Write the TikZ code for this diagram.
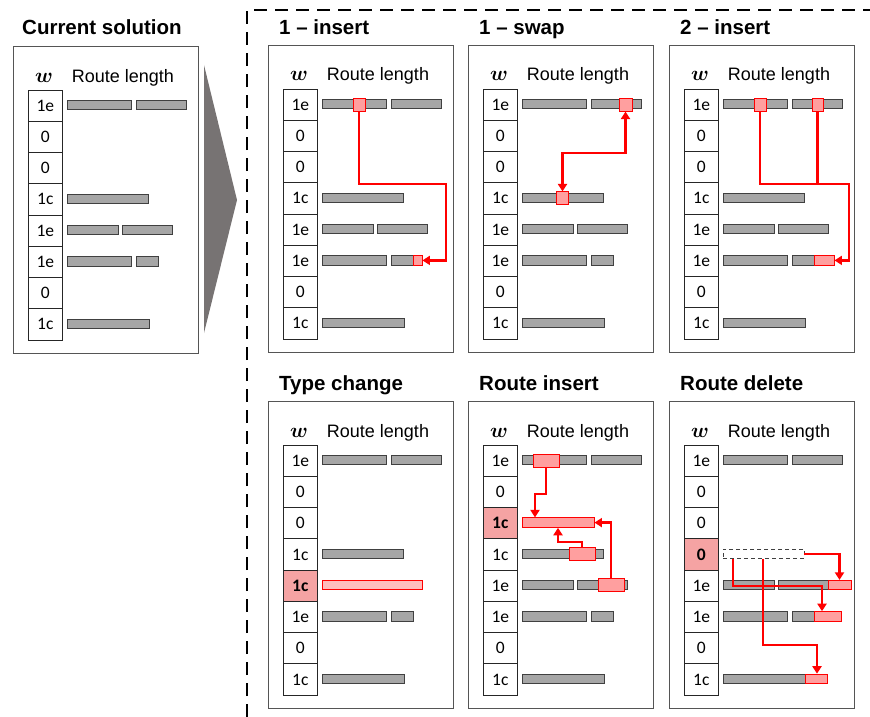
\documentclass[tikz,border=0pt]{standalone}
\usepackage{amsmath}
\usepackage{fontspec}
\setmainfont{Liberation Sans}
\newfontfamily\cellfont{Carlito}
\usetikzlibrary{arrows.meta}
\definecolor{barfill}{HTML}{A6A6A6}
\definecolor{bardraw}{HTML}{404040}
\definecolor{boxgray}{HTML}{555555}
\definecolor{redfill}{HTML}{FF9F9F}
\definecolor{redcell}{HTML}{F5A3A3}
\definecolor{arrgray}{HTML}{777373}
\tikzset{
  panelbox/.style={draw=boxgray, line width=1.2pt, inner sep=0pt, anchor=north west, minimum width=185pt, minimum height=307pt},
  cell/.style={draw=black!85, line width=1.1pt, minimum width=34.5pt, minimum height=31.25pt, inner sep=0pt, anchor=north west, font=\cellfont\fontsize{17.5}{19}\selectfont},
  hlcell/.style={cell, fill=redcell, font=\cellfont\bfseries\fontsize{17.5}{19}\selectfont},
  bar/.style={fill=barfill, draw=bardraw, line width=0.9pt},
  redr/.style={fill=redfill, draw=red, line width=0.9pt, inner sep=0pt, minimum height=9.5pt},
  redsq/.style={redr, minimum height=13pt},
  ghost/.style={draw=black!75, dashed, dash pattern=on 4pt off 3pt, line width=0.9pt, inner sep=0pt, minimum height=9pt, minimum width=81pt},
  rarrow/.style={draw=red, line width=2.7pt, line join=miter, -{Triangle[length=7.5pt,width=9pt]}},
  rline/.style={draw=red, line width=2.7pt, line join=miter},
  rdouble/.style={draw=red, line width=2.7pt, line join=miter, {Triangle[length=7.5pt,width=9pt]}-{Triangle[length=7.5pt,width=9pt]}},
  ptitle/.style={font=\bfseries\fontsize{20.5}{24}\selectfont, anchor=base west, inner sep=0pt},
  hdrtxt/.style={font=\fontsize{18}{20}\selectfont, anchor=base, inner sep=0pt},
  wtxt/.style={font=\fontsize{20}{22}\selectfont, anchor=base, inner sep=0pt},
  frame/.style={line width=2.8pt, dash pattern=on 13pt off 8pt},
}
\newcommand\mkpanel[4]{%
  \node[panelbox] (#1box) at (#2,#3) {};
  \node[wtxt] (#1w) at (#2+31,#3+36) {$\boldsymbol{w}$};
  \node[hdrtxt] (#1rl) at (#2+110,#3+36) {Route length};
  \foreach \lab [count=\i] in {#4} {\node[cell] (#1c\i) at (#2+14.5,#3+43.5+\i*31.25-31.25) {\lab};}
}
\newcommand\gb[4]{\draw[bar] (#1+#3,#2-4.7) rectangle (#1+#4,#2+4.7);}
\newcommand\rowA[2]{\gb{#1}{#2}{0}{64}\gb{#1}{#2}{69}{119}}
\newcommand\rowD[2]{\gb{#1}{#2}{0}{81}}
\newcommand\rowE[2]{\gb{#1}{#2}{0}{51}\gb{#1}{#2}{55}{105}}
\newcommand\rowF[2]{\gb{#1}{#2}{0}{64}\gb{#1}{#2}{69}{91}}
\newcommand\rowH[2]{\gb{#1}{#2}{0}{82}}
\begin{document}
\begin{tikzpicture}[x=1pt,y=-1pt]
\useasboundingbox (0,0) rectangle (870,717);
% dashed frame
\draw[frame] (247,717) -- (247,10) -- (872,10);
% titles
\node[ptitle] (t0) at (22,35) {Current solution};
\node[ptitle] (t1) at (279,35) {1 -- insert};
\node[ptitle] (t2) at (479,35) {1 -- swap};
\node[ptitle] (t3) at (680,35) {2 -- insert};
\node[ptitle] (t4) at (279,390) {Type change};
\node[ptitle] (t5) at (479,390) {Route insert};
\node[ptitle] (t6) at (680,390) {Route delete};
% big grey arrow
\fill[arrgray] (204,65) -- (237,200) -- (204,333) -- cycle;

% ---------- current solution ----------
\mkpanel{p0}{13}{46}{1e,0,0,1c,1e,1e,0,1c}
\rowA{67}{105.1}\rowD{67}{198.9}\rowE{67}{230.1}\rowF{67}{261.4}\rowH{67}{323.9}

% ---------- 1 - insert ----------
\mkpanel{p1}{268}{45}{1e,0,0,1c,1e,1e,0,1c}
\rowA{322}{104.1}\rowD{322}{197.9}\rowE{322}{229.1}\rowF{322}{260.4}\rowH{322}{322.9}
\node[redsq, minimum width=12pt] (p1a) at (359,104.6) {};
\node[redr, minimum width=9pt] (p1b) at (417.5,260.4) {};
\draw[rarrow] (p1a.south) -- (359,184) -- (446,184) -- (446,0 |- p1b.east) -- (p1b.east);

% ---------- 1 - swap ----------
\mkpanel{p2}{468}{45}{1e,0,0,1c,1e,1e,0,1c}
\rowA{522}{104.1}\rowD{522}{197.9}\rowE{522}{229.1}\rowF{522}{260.4}\rowH{522}{322.9}
\node[redsq, minimum width=13pt] (p2a) at (625.5,104.6) {};
\node[redsq, minimum width=12pt] (p2b) at (562.5,198.4) {};
\draw[rdouble] (p2b.north) -- (562.5,153) -- (625.5,153) -- (p2a.south);

% ---------- 2 - insert ----------
\mkpanel{p3}{669}{45}{1e,0,0,1c,1e,1e,0,1c}
\rowA{723}{104.1}\rowD{723}{197.9}\rowE{723}{229.1}\rowF{723}{260.4}\rowH{723}{322.9}
\node[redsq, minimum width=12pt] (p3a) at (760,104.6) {};
\node[redsq, minimum width=11pt] (p3b) at (817.5,104.6) {};
\node[redr, minimum width=20pt] (p3c) at (824,260.4) {};
\draw[rline] (p3b.south) -- (817.5,184);
\draw[rarrow] (p3a.south) -- (760,184) -- (849,184) -- (849,0 |- p3c.east) -- (p3c.east);

% ---------- Type change ----------
\mkpanel{p4}{268}{401}{1e,0,0,1c,,1e,0,1c}
\node[hlcell] (p4h) at (282.5,569.5) {1c};
\rowA{322}{460.1}\rowD{322}{553.9}\rowF{322}{616.4}\rowH{322}{678.9}
\node[redr, minimum width=100pt, fill=redfill!70] (p4r) at (372,585.1) {};

% ---------- Route insert ----------
\mkpanel{p5}{468}{401}{1e,0,,1c,1e,1e,0,1c}
\node[hlcell] (p5h) at (482.5,507) {1c};
\rowA{522}{460.1}\rowD{522}{553.9}\rowE{522}{585.1}\rowF{522}{616.4}\rowH{522}{678.9}
\node[redr, minimum width=72pt] (p5bar) at (558,522.6) {};
\node[redsq, minimum width=26pt] (p5a) at (546,460.6) {};
\node[redsq, minimum width=26pt] (p5c) at (582,554.4) {};
\node[redsq, minimum width=26pt] (p5d) at (611,585.1) {};
\draw[rarrow] (p5a.south) -- (546,494) -- (535,494) -- (535,0 |- p5bar.north);
\draw[rarrow] (p5c.north) -- (582,542) -- (558,542) -- (558,0 |- p5bar.south);
\draw[rarrow] (p5d.north) -- (p5d.north |- p5bar.east) -- (p5bar.east);

% ---------- Route delete ----------
\mkpanel{p6}{669}{401}{1e,0,0,,1e,1e,0,1c}
\node[hlcell] (p6h) at (683.5,538.25) {0};
\rowA{723}{460.1}\rowE{723}{585.1}\rowF{723}{616.4}\rowH{723}{678.9}
\node[ghost] (p6d) at (763.5,553.9) {};
\node[redr, minimum width=23pt] (p6r5) at (839.5,585.1) {};
\node[redr, minimum width=27pt] (p6r6) at (827.5,616.4) {};
\node[redr, minimum width=22pt] (p6r8) at (816,678.9) {};
\draw[rarrow] (p6d.east) -- (p6r5.north |- p6d.east) -- (p6r5.north);
\draw[rarrow] (733,0 |- p6d.south) -- (733,586) -- (822,586) -- (822,0 |- p6r6.north);
\draw[rarrow] (763,0 |- p6d.south) -- (763,645) -- (817,645) -- (817,0 |- p6r8.north);
\end{tikzpicture}
\end{document}
